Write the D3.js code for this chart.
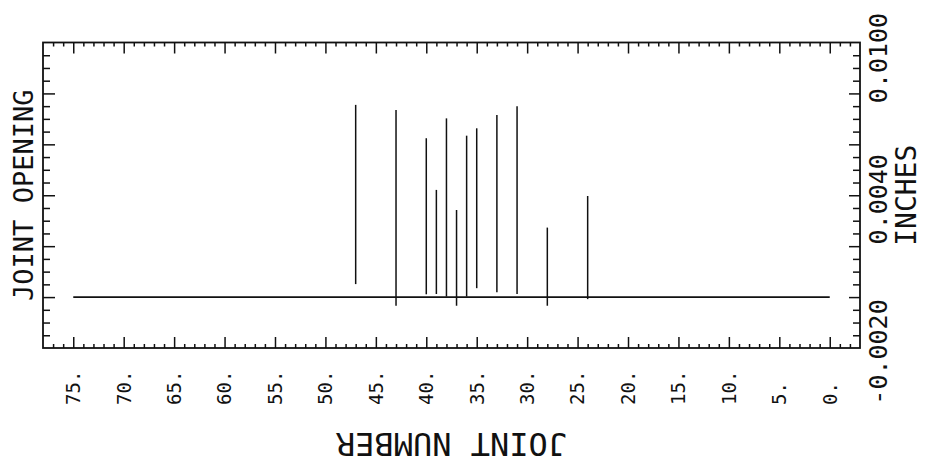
<!DOCTYPE html>
<html>
<head>
<meta charset="utf-8">
<script src="https://cdn.jsdelivr.net/npm/d3@7"></script>
<style>
  body { margin: 0; background: #fff; }
  text { font-family: "DejaVu Sans Mono", "Liberation Mono", monospace; fill: #111; }
</style>
</head>
<body>
<script>
// Joint Opening Plot (plotter style, rotated labels)

// const and Global Variables
const w = 929; // Width of Space
const h = 470; // Height of Space
const frameLeft = 43, frameRight = 860, frameTop = 42.5, frameBottom = 348;

// Joint numbers with an opening, and the low / high opening at each (inches)
const joints = [47, 43, 40, 39, 38, 37, 36, 35, 33, 31, 28, 24];
const lowValues = [0.00051, -0.00034, 0.00011, 0.00012, 0.00002, -0.00034, 0.00002, 0.00035, 0.00019, 0.00012, -0.00034, -0.00008];
const highValues = [0.00755, 0.00735, 0.00624, 0.00421, 0.00702, 0.00342, 0.00634, 0.00663, 0.00715, 0.0075, 0.00273, 0.00397];

// Zero line runs over the whole joint range
const baseJoints = [75, 0];
const baseValues = [0, 0];

// Tick labels
const xTickLabels = [75, 70, 65, 60, 55, 50, 45, 40, 35, 30, 25, 20, 15, 10, 5, 0];
const yTickLabels = [-0.002, 0.004, 0.010];

// Scales (joint number runs right to left)
const xScale = d3.scaleLinear().domain([78, -3]).range([frameLeft, frameRight]);
const yScale = d3.scaleLinear().domain([-0.002, 0.010]).range([frameBottom, frameTop]);

// SVG
const svg = d3.select("body")
  .append("svg")
  .attr("width", w)
  .attr("height", h);

svg.append("rect").attr("width", w).attr("height", h).attr("fill", "#fff");

// Tick values
const xMajor = d3.range(75, -1, -5);
const xMinor = d3.range(77, -3, -1).filter(d => d % 5 !== 0);
const yMajor = d3.range(0, 7).map(i => -0.002 + i * 0.002).slice(1, 6);
const yMinor = d3.range(0, 25).map(i => -0.002 + i * 0.0005).filter((d, i) => i % 4 !== 0);

function tickAxis(axisFn, scale, values, size, transform) {
  const g = svg.append("g")
    .attr("transform", transform)
    .call(axisFn(scale).tickValues(values).tickSize(size).tickSizeOuter(0).tickFormat(""));
  g.select(".domain").remove();
  g.selectAll("line").attr("stroke", "#111").attr("stroke-width", 1.5);
}

// Top and bottom edge ticks (inward)
tickAxis(d3.axisBottom, xScale, xMajor, 11, `translate(0,${frameTop})`);
tickAxis(d3.axisBottom, xScale, xMinor, 4, `translate(0,${frameTop})`);
tickAxis(d3.axisTop, xScale, xMajor, 11, `translate(0,${frameBottom})`);
tickAxis(d3.axisTop, xScale, xMinor, 4, `translate(0,${frameBottom})`);
// Left and right edge ticks (inward)
tickAxis(d3.axisRight, yScale, yMajor, 12, `translate(${frameLeft},0)`);
tickAxis(d3.axisRight, yScale, yMinor, 7, `translate(${frameLeft},0)`);
tickAxis(d3.axisLeft, yScale, yMajor, 11, `translate(${frameRight},0)`);
tickAxis(d3.axisLeft, yScale, yMinor, 7, `translate(${frameRight},0)`);

// Frame
svg.append("rect")
  .attr("x", frameLeft)
  .attr("y", frameTop)
  .attr("width", frameRight - frameLeft)
  .attr("height", frameBottom - frameTop)
  .attr("fill", "none")
  .attr("stroke", "#111")
  .attr("stroke-width", 1.8);

// Zero line
svg.append("line")
  .attr("x1", xScale(baseJoints[0]))
  .attr("x2", xScale(baseJoints[1]))
  .attr("y1", yScale(baseValues[0]))
  .attr("y2", yScale(baseValues[1]))
  .attr("stroke", "#111")
  .attr("stroke-width", 1.6);

// Opening spikes
svg.selectAll(".spike")
  .data(joints)
  .enter()
  .append("line")
  .attr("class", "spike")
  .attr("x1", d => xScale(d))
  .attr("x2", d => xScale(d))
  .attr("y1", (d, i) => yScale(lowValues[i]))
  .attr("y2", (d, i) => yScale(highValues[i]))
  .attr("stroke", "#111")
  .attr("stroke-width", 1.5);

// X tick labels (rotated, reading upward)
svg.selectAll(".xlab")
  .data(xTickLabels)
  .enter()
  .append("text")
  .attr("class", "xlab")
  .attr("transform", d => `translate(${xScale(d)},405) rotate(-90)`)
  .attr("dy", "0.36em")
  .style("font-size", "19px")
  .text(d => d + ".");

// Y tick labels on the right (kept inside the page at the top)
svg.selectAll(".ylab")
  .data(yTickLabels)
  .enter()
  .append("text")
  .attr("class", "ylab")
  .attr("transform", d => `translate(878,${Math.max(yScale(d) + 4, 58)}) rotate(-90)`)
  .attr("dy", "0.36em")
  .style("text-anchor", "middle")
  .style("font-size", "25px")
  .text(d => d3.format(".4f")(d).replace("−", "-"));

// Y title left
svg.append("text")
  .attr("transform", `translate(23,${(frameTop + frameBottom) / 2}) rotate(-90)`)
  .attr("dy", "0.36em")
  .style("text-anchor", "middle")
  .style("font-size", "27px")
  .text("JOINT OPENING");

// Y title right
svg.append("text")
  .attr("transform", `translate(906,${(frameTop + frameBottom) / 2}) rotate(-90)`)
  .attr("dy", "0.36em")
  .style("text-anchor", "middle")
  .style("font-size", "28px")
  .text("INCHES");

// X title (upside down, as plotted)
svg.append("text")
  .attr("transform", `translate(${(frameLeft + frameRight) / 2},445) rotate(180)`)
  .attr("dy", "0.36em")
  .style("text-anchor", "middle")
  .style("font-size", "32px")
  .text("JOINT NUMBER");
</script>
</body>
</html>
